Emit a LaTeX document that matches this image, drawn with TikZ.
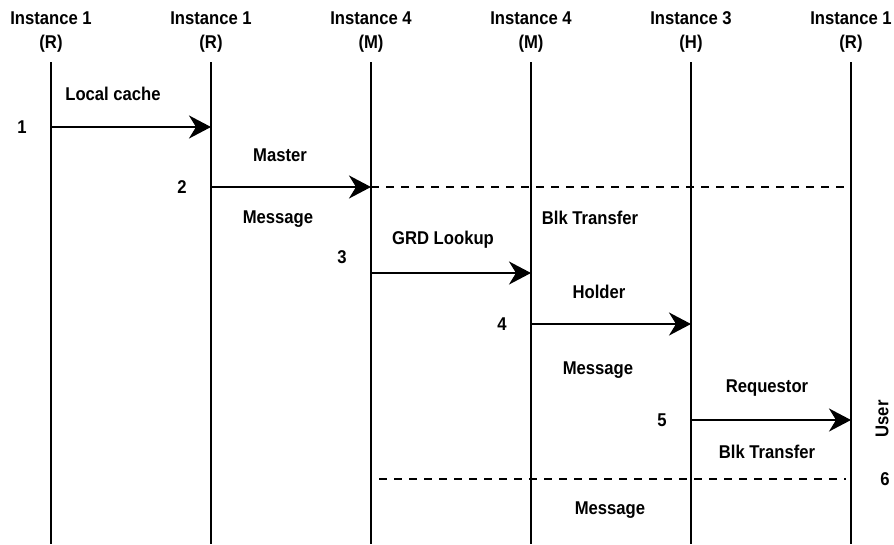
\documentclass[tikz,border=0pt]{standalone}
\usepackage{fontspec}
\setmainfont[FakeStretch=0.9]{Liberation Sans}
\usetikzlibrary{arrows.meta}

\begin{document}
\begin{tikzpicture}[x=1pt,y=-1pt,>={Stealth[length=22pt,width=23pt,inset=7pt]},
lbl/.style={font=\bfseries\fontsize{18.5}{20}\selectfont,inner sep=0pt},
life/.style={line width=2.2pt},
msg/.style={line width=2.2pt,->},
dsh/.style={line width=2.2pt,dash pattern=on 8pt off 7pt}]
\useasboundingbox(0,0)rectangle(894,544);
\foreach \x/\n/\r [count=\i] in {51/1/R,211/1/R,371/4/M,531/4/M,691/3/H,851/1/R}{
\node[lbl](h\i)at(\x,18){Instance \n};
\node[lbl](r\i)at(\x,44){(\r)};
\draw[life](\x,62)coordinate(t\i)--(\x,544)coordinate(b\i);
}
% messages
\coordinate(s1)at(51,127);\coordinate(e1)at(211,127);
\coordinate(s2)at(211,187);\coordinate(e2)at(371,187);
\coordinate(s3)at(371,273);\coordinate(e3)at(531,273);
\coordinate(s4)at(531,324);\coordinate(e4)at(691,324);
\coordinate(s5)at(691,420);\coordinate(e5)at(851,420);
\coordinate(d2)at(846,187);
\coordinate(s6)at(379,479);\coordinate(d6)at(846,479);
\draw[msg](s1)--(e1);
\draw[msg](s2)--(e2);
\draw[msg](s3)--(e3);
\draw[msg](s4)--(e4);
\draw[msg](s5)--(e5);
\draw[dsh](e2)--(d2);
\draw[dsh](s6)--(d6);
\node[lbl](n1)at(22,127){1};
\node[lbl](n2)at(182,187){2};
\node[lbl](n3)at(342,257){3};
\node[lbl](n4)at(502,324){4};
\node[lbl](n5)at(662,420){5};
\node[lbl](n6)at(885,479){6};
\node[lbl](l1)at(113,94){Local cache};
\node[lbl](l2)at(280,155){Master};
\node[lbl](l3)at(278,219){Message};
\node[lbl](l4)at(590,218){Blk Transfer};
\node[lbl](l5)at(443,240){GRD Lookup};
\node[lbl](l6)at(599,292){Holder};
\node[lbl](l7)at(598,370){Message};
\node[lbl](l8)at(767,388){Requestor};
\node[lbl](l9)at(767,452){Blk Transfer};
\node[lbl](l10)at(610,510){Message};
\node[lbl,rotate=90](u)at(882,419){User};
\end{tikzpicture}
\end{document}
